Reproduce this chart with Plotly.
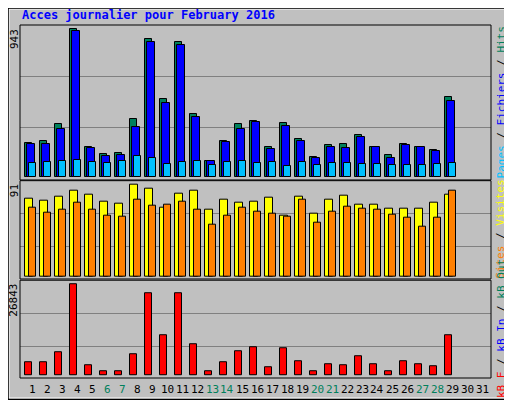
import plotly.graph_objects as go

days = list(range(1, 30))
hits = [213,226,335,943,188,143,149,367,878,495,859,399,98,226,335,354,188,341,239,124,200,207,264,188,136,207,188,168,507]
files = [207,207,303,930,181,130,136,316,859,469,840,380,98,220,303,348,175,322,226,117,188,181,252,188,117,200,188,162,482]
pages = [85,92,98,104,92,85,98,130,117,79,92,98,72,92,98,85,92,66,92,72,85,85,79,79,72,72,72,79,85]
visits = [77,75,79,85,81,74,72,91,87,68,82,85,66,76,73,74,78,60,79,62,76,80,71,71,67,67,67,73,81]
sites = [68,63,66,73,66,60,59,76,70,71,74,66,51,60,68,64,62,59,76,53,64,69,67,66,61,58,49,58,85]
kbf = [3919,3919,6858,26843,3037,1274,1274,6270,24198,11854,24198,9209,1274,3919,7152,8327,2449,8033,4213,1274,3331,3037,5682,3331,1274,4213,3331,2743,11854]
tick_days = list(range(1, 32))
weekend = {6, 7, 13, 14, 20, 21, 27, 28}
title = "Acces journalier pour February 2016"

GREEN = "#00805c"; BLUE = "#0000ff"; CYAN = "#00c0ff"
YEL = "#ffff00"; ORA = "#ff8000"; RED = "#ff0000"
BG = "#c0c0c0"
FONT = "DejaVu Sans Mono"

fig = go.Figure()
def bar(y, color, off, w, ax):
    fig.add_trace(go.Bar(x=days, y=y, offset=off, width=w, marker=dict(color=color, line=dict(color="black", width=1)),
                         xaxis="x" + ax if ax != "1" else "x", yaxis="y" + ax if ax != "1" else "y", showlegend=False))

bar(hits, GREEN, -0.48, 0.467, "1")
bar(files, BLUE, -0.347, 0.49, "1")
bar(pages, CYAN, -0.213, 0.467, "1")
bar(visits, YEL, -0.48, 0.53, "2")
bar(sites, ORA, -0.213, 0.467, "2")
bar(kbf, RED, -0.48, 0.467, "3")

xr = [0.167, 31.57]
xcommon = dict(range=xr, showticklabels=False, showgrid=False, zeroline=False, fixedrange=True)
ycommon = dict(showticklabels=False, showgrid=True, gridcolor="#808080", gridwidth=1, zeroline=False, ticks="")
doms = {"1": [0.561, 1.0], "2": [0.2805, 0.559], "3": [0.0, 0.277]}
# page body has an 8px margin, so the figure is 8px smaller and margins shifted
fig.update_layout(
    width=504, height=392, margin=dict(l=12, r=21, t=17, b=22),
    paper_bgcolor=BG, plot_bgcolor=BG, barmode="overlay", bargap=0,
    xaxis=dict(**xcommon, anchor="y"), xaxis2=dict(**xcommon, anchor="y2", matches="x"),
    xaxis3=dict(**xcommon, anchor="y3", matches="x"),
    yaxis=dict(**ycommon, domain=doms["1"], range=[-21, 970], tickvals=[316, 642]),
    yaxis2=dict(**ycommon, domain=doms["2"], range=[-2.7, 94.6], tickvals=[29.7, 62.3]),
    yaxis3=dict(**ycommon, domain=doms["3"], range=[-764, 28042], tickvals=[8621, 18320]),
)

shapes = []
for k, d in doms.items():
    shapes.append(dict(type="rect", xref="paper", yref="paper", x0=0, x1=1, y0=d[0], y1=d[1], line=dict(color="black", width=1)))
shapes.append(dict(type="rect", xref="paper", yref="paper", x0=-11/471, x1=1+19/471, y0=-20/353, y1=1+16/353, line=dict(color="white", width=1)))
shapes.append(dict(type="rect", xref="paper", yref="paper", x0=-12/471, x1=1+20.5/471, y0=-21.5/353, y1=1+17/353, line=dict(color="black", width=1.5)))
fig.update_layout(shapes=shapes)

ann = []
ann.append(dict(text="<b>" + title + "</b>", xref="paper", yref="paper", x=0, y=1 + 10/353, xanchor="left", yanchor="middle",
                showarrow=False, font=dict(family=FONT, size=12, color="#0000ff")))
for d in tick_days:
    ann.append(dict(text=str(d), x=d, xref="x", yref="paper", y=-11/353, yanchor="middle", showarrow=False,
                    font=dict(family=FONT, size=11, color=GREEN if d in weekend else "black")))
for txt, k in [("943", "1"), ("91", "2"), ("26843", "3")]:
    ann.append(dict(text=txt, xref="paper", yref="paper", x=-6/471, y=doms[k][1] - 2/353, textangle=-90, xanchor="center",
                    yanchor="top", showarrow=False, font=dict(family=FONT, size=11, color="black")))
def sp(t, c):
    return f'<span style="color:{c}">{t}</span>'
right = {
    "1": sp("Pages", CYAN) + sp(" / ", "black") + sp("Fichiers", BLUE) + sp(" / ", "black") + sp("Hits", GREEN),
    "2": sp("Sites", ORA) + sp(" / ", "black") + sp("Visites", YEL),
    "3": sp("kB F", RED) + sp(" / ", "black") + sp("kB In", BLUE) + sp(" / ", "black") + sp("kB Out", GREEN),
}
for k, t in right.items():
    ann.append(dict(text=t, xref="paper", yref="paper", x=1 + 10/471, y=(doms[k][0] + doms[k][1]) / 2, textangle=-90,
                    xanchor="center", yanchor="middle", showarrow=False, font=dict(family=FONT, size=11)))
fig.update_layout(annotations=ann)

fig.write_html("out.html")
